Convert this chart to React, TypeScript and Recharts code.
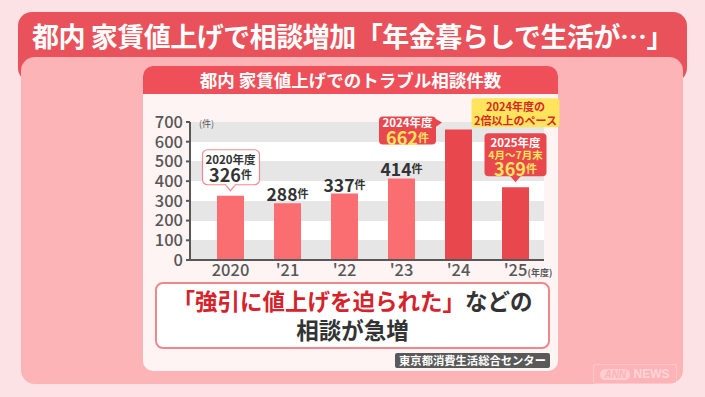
import React from 'react';
import { BarChart, Bar, XAxis, YAxis, CartesianGrid, LabelList, Cell } from 'recharts';

const years = ['2020', "'21", "'22", "'23", "'24", "'25"];
const counts = [326, 288, 337, 414, 662, 369];
const noteTitles = ['2020年度', '', '', '', '2024年度', '2025年度'];
const notePeriods = ['', '', '', '', '', '4月～7月末'];
const paceNote = ['2024年度の', '2倍以上のペース'];
const yTicks = [0, 100, 200, 300, 400, 500, 600, 700];

const data = years.map((year, i) => ({ year, count: counts[i] }));

const FONT = "'Noto Sans CJK JP', 'Noto Sans', sans-serif";
const RED = '#e9474e';
const YELLOW = '#ffe45c';
const GRAY = '#575757';

function Count({ x, y, value, big, color }: any) {
  return (
    <text x={x} y={y} textAnchor="middle" dominantBaseline="central" fill={color} fontFamily={FONT} fontWeight={700}>
      <tspan fontSize={big}>{value}</tspan>
      <tspan fontSize={11}>件</tspan>
    </text>
  );
}

function Line({ x, y, text, size, color }: any) {
  return (
    <text x={x} y={y} textAnchor="middle" dominantBaseline="central" fontSize={size} fontWeight={700} fill={color} fontFamily={FONT}>
      {text}
    </text>
  );
}

function CountLabel(props: any) {
  const { x, y, width, value, index } = props;
  const cx = x + width / 2;
  const title = noteTitles[index];

  if (!title) {
    return <Count x={cx} y={y - 10} value={value} big={17.5} color="#333" />;
  }

  if (index === 0) {
    const top = y - 46;
    return (
      <g>
        <rect x={cx - 28} y={top} width={57} height={35} rx={5} fill="#fff" stroke="#f08a8f" strokeWidth={1.2} />
        <path d={`M${cx - 5} ${top + 35} L${cx} ${top + 41} L${cx + 5} ${top + 35}`} fill="#fff" stroke="#f08a8f" strokeWidth={1.2} />
        <line x1={cx - 4} y1={top + 35} x2={cx + 4} y2={top + 35} stroke="#fff" strokeWidth={2} />
        <Line x={cx} y={top + 9} text={title} size={11.5} color="#333" />
        <Count x={cx} y={top + 24} value={value} big={18} color="#333" />
      </g>
    );
  }

  if (index === 4) {
    const right = x - 9;
    const top = y - 13;
    return (
      <g>
        <rect x={right - 57} y={top} width={57} height={28} rx={4} fill={RED} />
        <path d={`M${right - 1} ${top + 2} L${right + 6} ${top + 6} L${right - 1} ${top + 11} Z`} fill={RED} />
        <Line x={right - 28.5} y={top + 6} text={title} size={11.5} color="#fff" />
        <Count x={right - 28.5} y={top + 21} value={value} big={18} color={YELLOW} />
      </g>
    );
  }

  const top = y - 54;
  return (
    <g>
      <rect x={cx - 44} y={y - 89} width={88} height={29} rx={3} fill={YELLOW} />
      <Line x={cx} y={y - 81} text={paceNote[0]} size={11} color="#d42a2a" />
      <Line x={cx} y={y - 67} text={paceNote[1]} size={11} color="#d42a2a" />
      <rect x={cx - 31} y={top} width={62} height={43} rx={4} fill={RED} />
      <path d={`M${cx - 6} ${top + 42} L${cx} ${top + 49} L${cx + 6} ${top + 42} Z`} fill={RED} />
      <Line x={cx} y={top + 9} text={title} size={11.5} color="#fff" />
      <Line x={cx} y={top + 21} text={notePeriods[index]} size={10.5} color={YELLOW} />
      <Count x={cx} y={top + 35} value={value} big={18} color={YELLOW} />
    </g>
  );
}

export default function App() {
  return (
    <div style={{ position: 'fixed', left: 0, top: 0, width: 705, height: 397, background: '#fde2e5', fontFamily: FONT, overflow: 'hidden' }}>
      <div style={{ position: 'absolute', left: 18, top: 12, width: 669, height: 70, borderRadius: 14, background: '#e9525a' }} />
      <div style={{ position: 'absolute', left: 18, top: 12, width: 669, height: 48, color: '#fff', fontSize: 27, fontWeight: 700, lineHeight: '48px', textAlign: 'center', letterSpacing: -0.5, whiteSpace: 'nowrap' }}>
        都内 家賃値上げで相談増加「年金暮らしで生活が…」
      </div>
      <div style={{ position: 'absolute', left: 21, top: 57, width: 662, height: 327, borderRadius: 14, background: '#fdb4b7' }} />
      <div style={{ position: 'absolute', left: 143, top: 66, width: 415, height: 305, borderRadius: 10, background: '#fff4f4' }} />
      <div style={{ position: 'absolute', left: 143, top: 66, width: 415, height: 28, borderRadius: '10px 10px 0 0', background: '#ee4f58', color: '#fff', fontSize: 17.5, fontWeight: 700, lineHeight: '28px', textAlign: 'center', whiteSpace: 'nowrap' }}>
        都内 家賃値上げでのトラブル相談件数
      </div>
      <div style={{ position: 'absolute', left: 155, top: 282, width: 391, height: 61, borderRadius: 8, background: '#fff', border: '2px solid #f0878c', textAlign: 'center', fontSize: 22.5, fontWeight: 700, lineHeight: '29px', color: '#333', paddingTop: 2 }}>
        <div><span style={{ color: '#d6232b' }}>「強引に値上げを迫られた」</span>などの</div>
        <div>相談が急増</div>
      </div>
      <div style={{ position: 'absolute', left: 395, top: 353, width: 155, height: 15, background: '#595959', borderRadius: 2, color: '#fff', fontSize: 11.3, fontWeight: 700, lineHeight: '15px', textAlign: 'center', whiteSpace: 'nowrap' }}>
        東京都消費生活総合センター
      </div>
      <div style={{ position: 'absolute', left: 593, top: 364, width: 82, height: 18, border: '1px solid rgba(255,255,255,0.25)', borderRadius: 2, color: 'rgba(255,255,255,0.45)', fontSize: 12, fontWeight: 700, lineHeight: '18px', textAlign: 'center', fontFamily: "'Liberation Sans', sans-serif" }}>
        <span style={{ background: 'rgba(255,255,255,0.35)', color: '#fdb4b7', borderRadius: 8, padding: '0 4px', fontStyle: 'italic', fontSize: 10 }}>ANN</span> NEWS
      </div>
      <div style={{ position: 'absolute', left: 0, top: 0 }}>
        <BarChart width={705} height={397} data={data} margin={{ top: 122, right: 161, bottom: 107, left: 140 }} barSize={27}>
          <CartesianGrid vertical={false} stroke="none" horizontalFill={['#e6e6e6', '#ffffff']} fillOpacity={1} />
          <XAxis
            dataKey="year"
            height={30}
            padding={{ left: 12, right: 0 }}
            axisLine={{ stroke: GRAY, strokeWidth: 2 }}
            tickLine={false}
            tickSize={0}
            tickMargin={4}
            tick={{ fill: GRAY, fontSize: 16.5, fontWeight: 500, fontFamily: FONT }}
          />
          <YAxis
            width={50}
            domain={[0, 700]}
            ticks={yTicks}
            interval={0}
            axisLine={{ stroke: GRAY, strokeWidth: 2 }}
            tickLine={{ stroke: GRAY, strokeWidth: 2 }}
            tickSize={4}
            tickMargin={3}
            tick={{ fill: GRAY, fontSize: 16.5, fontWeight: 500, fontFamily: FONT }}
          />
          <Bar dataKey="count" isAnimationActive={false}>
            {data.map((d, i) => (
              <Cell key={d.year} fill={i >= 4 ? RED : '#fa6e72'} />
            ))}
            <LabelList dataKey="count" content={(p: any) => <CountLabel {...p} />} />
          </Bar>
          <text x={199} y={123} fontSize={9} fill={GRAY} fontFamily={FONT} dominantBaseline="central">(件)</text>
          <text x={540} y={272} fontSize={9} fill={GRAY} fontFamily={FONT} fontWeight={700} textAnchor="middle" dominantBaseline="central">(年度)</text>
        </BarChart>
      </div>
    </div>
  );
}
